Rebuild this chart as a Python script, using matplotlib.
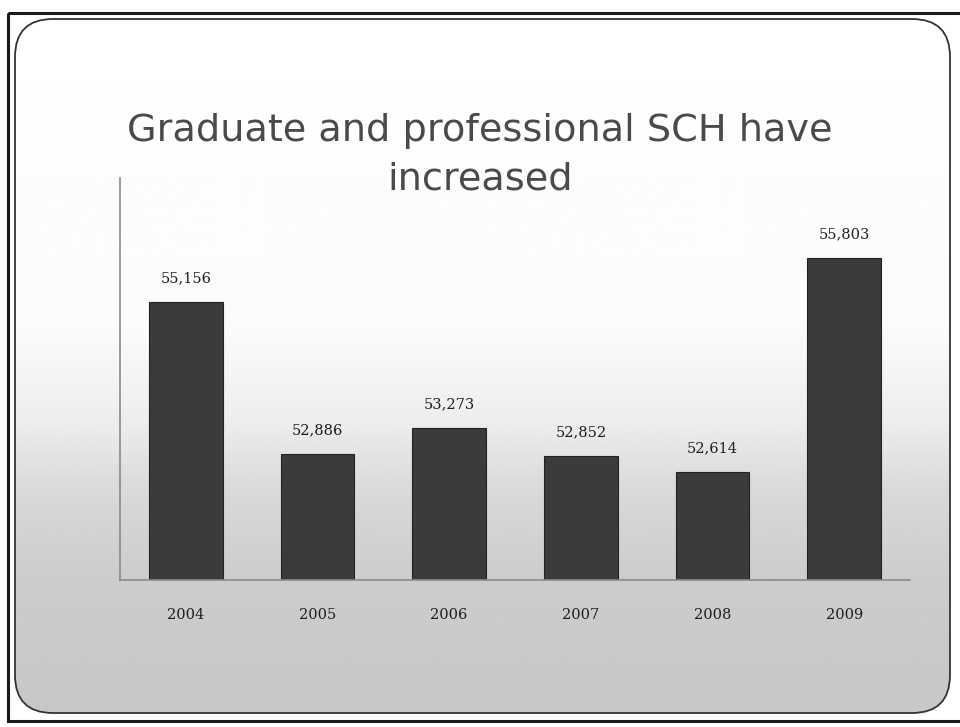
import matplotlib
matplotlib.use("Agg")
import matplotlib.pyplot as plt
import numpy as np
from matplotlib.patches import FancyBboxPatch, Rectangle

years = ["2004", "2005", "2006", "2007", "2008", "2009"]
sch = [55156, 52886, 53273, 52852, 52614, 55803]
title = "Graduate and professional SCH have\nincreased"

W, H = 960, 727
fig = plt.figure(figsize=(W / 100, H / 100), dpi=100)
fig.patch.set_facecolor("white")

# background slide
bg = fig.add_axes([0, 0, 1, 1], zorder=0)
bg.set_xlim(0, W)
bg.set_ylim(H, 0)
bg.axis("off")
outer = Rectangle((8, 13), W + 10, 708, fill=False, edgecolor="#1a1a1a", lw=2.2)
bg.add_patch(outer)
slide = FancyBboxPatch((15, 19), W - 15 - 10, 694, boxstyle="round,pad=0,rounding_size=38",
                       facecolor="none", edgecolor="#333333", lw=1.3, zorder=3)
bg.add_patch(slide)
ys = np.linspace(0, 1, 300)
stops_y = [0.0, 0.45, 0.58, 0.68, 0.8, 1.0]
stops_c = [1.0, 0.985, 0.93, 0.85, 0.80, 0.78]
col = np.interp(ys, stops_y, stops_c)
grad = np.repeat(col[:, None], 2, axis=1)
im = bg.imshow(grad, extent=[0, W, H, 0], cmap="gray", vmin=0, vmax=1, aspect="auto", zorder=1)
im.set_clip_path(slide)

fig.text(0.5, 1 - 155 / H, title, ha="center", va="center", fontsize=27.5,
         family="DejaVu Sans", color="#4a4a4a", linespacing=1.45)

ax = fig.add_axes([120 / W, 1 - 580 / H, 790 / W, 402 / H], zorder=2)
ax.patch.set_alpha(0)
x = np.arange(len(years))
ax.bar(x, sch, width=0.56, color="#3b3b3b", edgecolor="#222222", lw=0.8, bottom=0)
ax.set_ylim(51000, 57000)
ax.set_xlim(-0.5, len(years) - 0.5)
for xi, v in zip(x, sch):
    ax.text(xi, v + 250, f"{v:,}", ha="center", va="bottom", fontsize=10.5,
            family="DejaVu Serif", color="#1e1e1e")
for s in ["top", "right"]:
    ax.spines[s].set_visible(False)
for s in ["left", "bottom"]:
    ax.spines[s].set_color("#8a8a8a")
    ax.spines[s].set_linewidth(1.2)
ax.set_yticks([])
ax.set_xticks(x)
ax.set_xticklabels(years, fontsize=10.5, family="DejaVu Serif", color="#1e1e1e")
ax.tick_params(axis="x", length=0, pad=20)

fig.savefig("out.png", dpi=100)
